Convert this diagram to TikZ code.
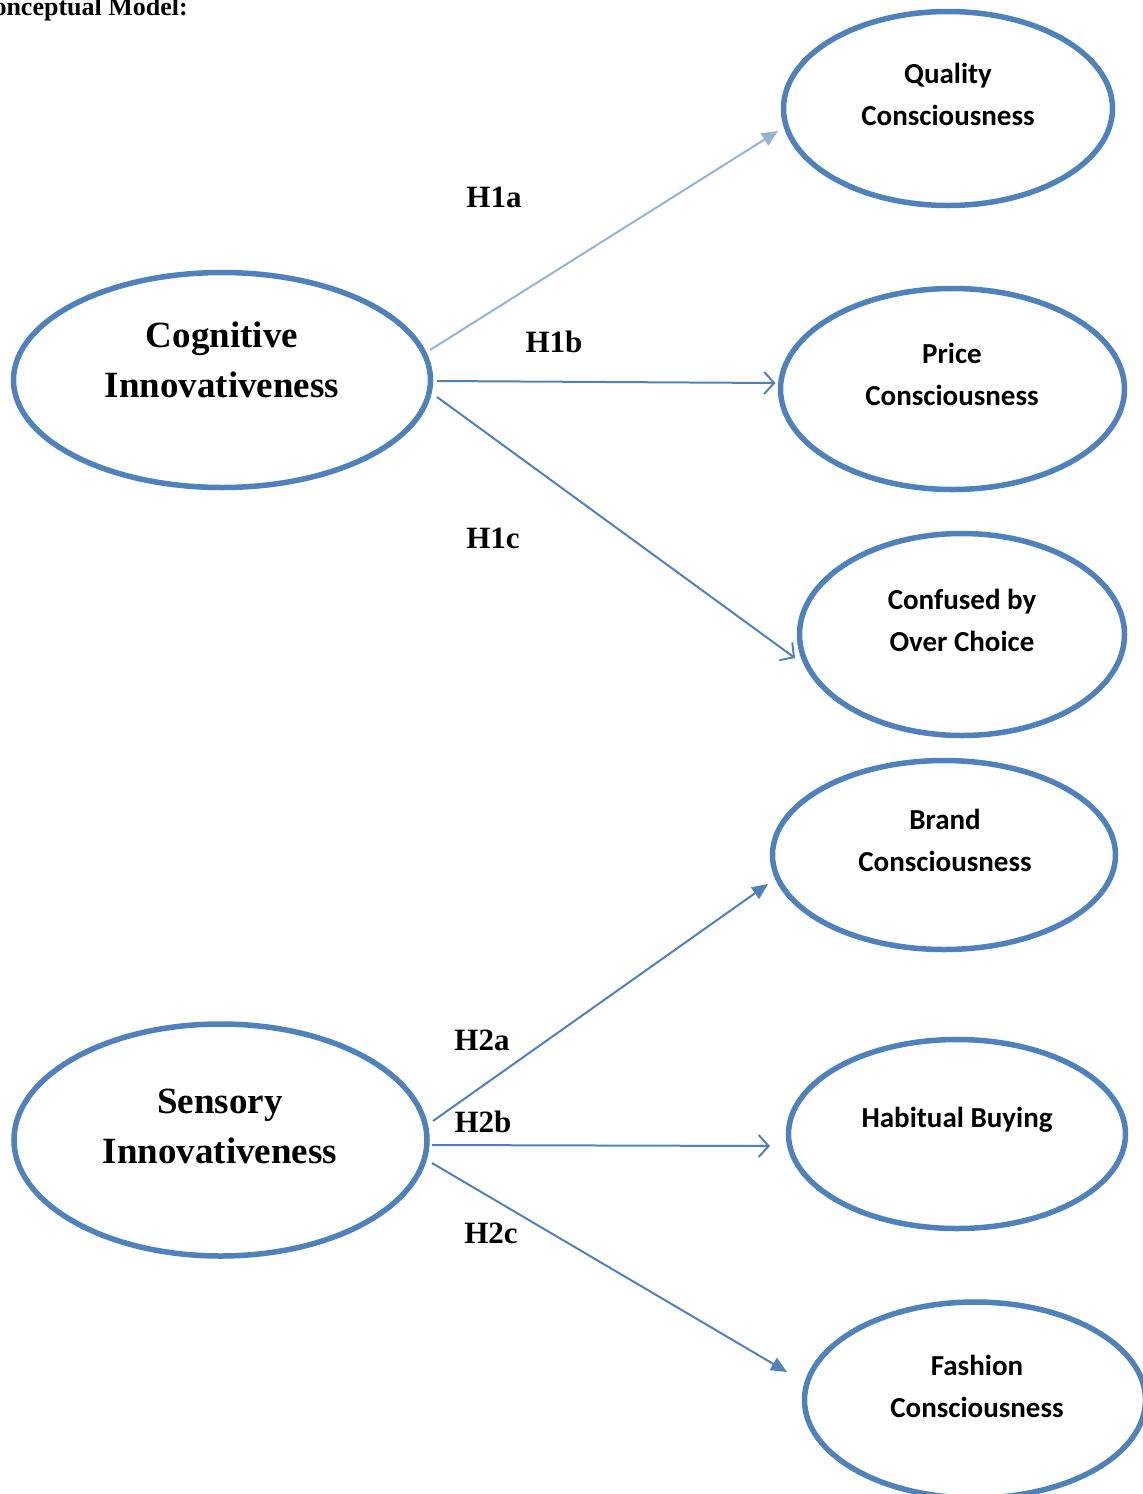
\documentclass[tikz,border=0pt]{standalone}
\usepackage{fontspec}
\setmainfont{Liberation Serif}
\newfontfamily\calib{Carlito}
\usetikzlibrary{shapes.geometric,arrows.meta,calc}
\definecolor{ebl}{HTML}{4F81BD}
\definecolor{lbl}{HTML}{95B3D7}
\begin{document}
\begin{tikzpicture}[x=1pt,y=-1pt,
  oval/.style={draw=ebl,line width=5.5pt,ellipse,inner sep=0pt,outer sep=0pt},
  ovtext/.style={font=\calib\bfseries\fontsize{29}{42}\selectfont,align=center,inner sep=0pt},
  bigtext/.style={font=\bfseries\fontsize{37}{50}\selectfont,align=center,inner sep=0pt},
  hlab/.style={font=\bfseries\fontsize{31}{34}\selectfont,inner sep=0pt},
  conn/.style={draw=ebl,line width=2pt},
  filltip/.style={-{Triangle[length=16pt,width=14pt]}},
  opentip/.style={-{Straight Barb[length=10pt,width=22pt,line width=2pt]}}]
\useasboundingbox (0,0) rectangle (1143,1494);
\clip (0,0) rectangle (1143,1494);
\node[font=\bfseries\fontsize{26}{28}\selectfont,anchor=base east,inner sep=0pt] (title) at (188,15) {Conceptual Model:};
% ellipses
\node[oval,minimum width=417pt,minimum height=215pt] (cog) at (222,380) {};
\node[oval,minimum width=413pt,minimum height=232pt] (sen) at (220.5,1140) {};
\node[oval,minimum width=329pt,minimum height=194pt] (qua) at (948,108.5) {};
\node[oval,minimum width=344pt,minimum height=201pt] (pri) at (952.5,389) {};
\node[oval,minimum width=325pt,minimum height=202pt] (con) at (962,634.5) {};
\node[oval,minimum width=343pt,minimum height=189pt] (bra) at (944,855) {};
\node[oval,minimum width=337pt,minimum height=189pt] (hab) at (957,1134) {};
\node[oval,minimum width=341pt,minimum height=196pt] (fas) at (975,1400) {};
% texts
\node[bigtext] (tcog) at (222,360) {Cognitive\\Innovativeness};
\node[bigtext] (tsen) at (220,1126) {Sensory\\Innovativeness};
\node[ovtext] (tqua) at (948,94) {Quality\\Consciousness};
\node[ovtext] (tpri) at (952,374) {Price\\Consciousness};
\node[ovtext] (tcon) at (962,620) {Confused by\\Over Choice};
\node[ovtext] (tbra) at (945,840) {Brand\\Consciousness};
\node[ovtext] (thab) at (957,1120) {Habitual Buying};
\node[ovtext] (tfas) at (977,1386.5) {Fashion\\Consciousness};
% connectors
\draw[conn,draw=lbl,-{Triangle[length=16pt,width=14pt]},lbl] ($(cog.center)+(208,-30)$) -- ($(qua.center)+(-170,22.5)$);
\draw[conn,opentip] ($(cog.center)+(215,1)$) -- ($(pri.center)+(-177,-6)$);
\draw[conn,opentip] ($(cog.center)+(215,17)$) -- ($(con.center)+(-167,23.5)$);
\draw[conn,filltip,ebl] ($(sen.center)+(212.5,-19)$) -- ($(bra.center)+(-176,29)$);
\draw[conn,opentip] ($(sen.center)+(211.5,5)$) -- ($(hab.center)+(-187,12)$);
\draw[conn,filltip,ebl] ($(sen.center)+(211.5,23)$) -- ($(fas.center)+(-188,-28)$);
% labels
\node[hlab] (h1a) at (494,197) {H1a};
\node[hlab] (h1b) at (554,342) {H1b};
\node[hlab] (h1c) at (493,538) {H1c};
\node[hlab] (h2a) at (482,1040) {H2a};
\node[hlab] (h2b) at (483,1122) {H2b};
\node[hlab] (h2c) at (491,1233) {H2c};
\end{tikzpicture}
\end{document}
